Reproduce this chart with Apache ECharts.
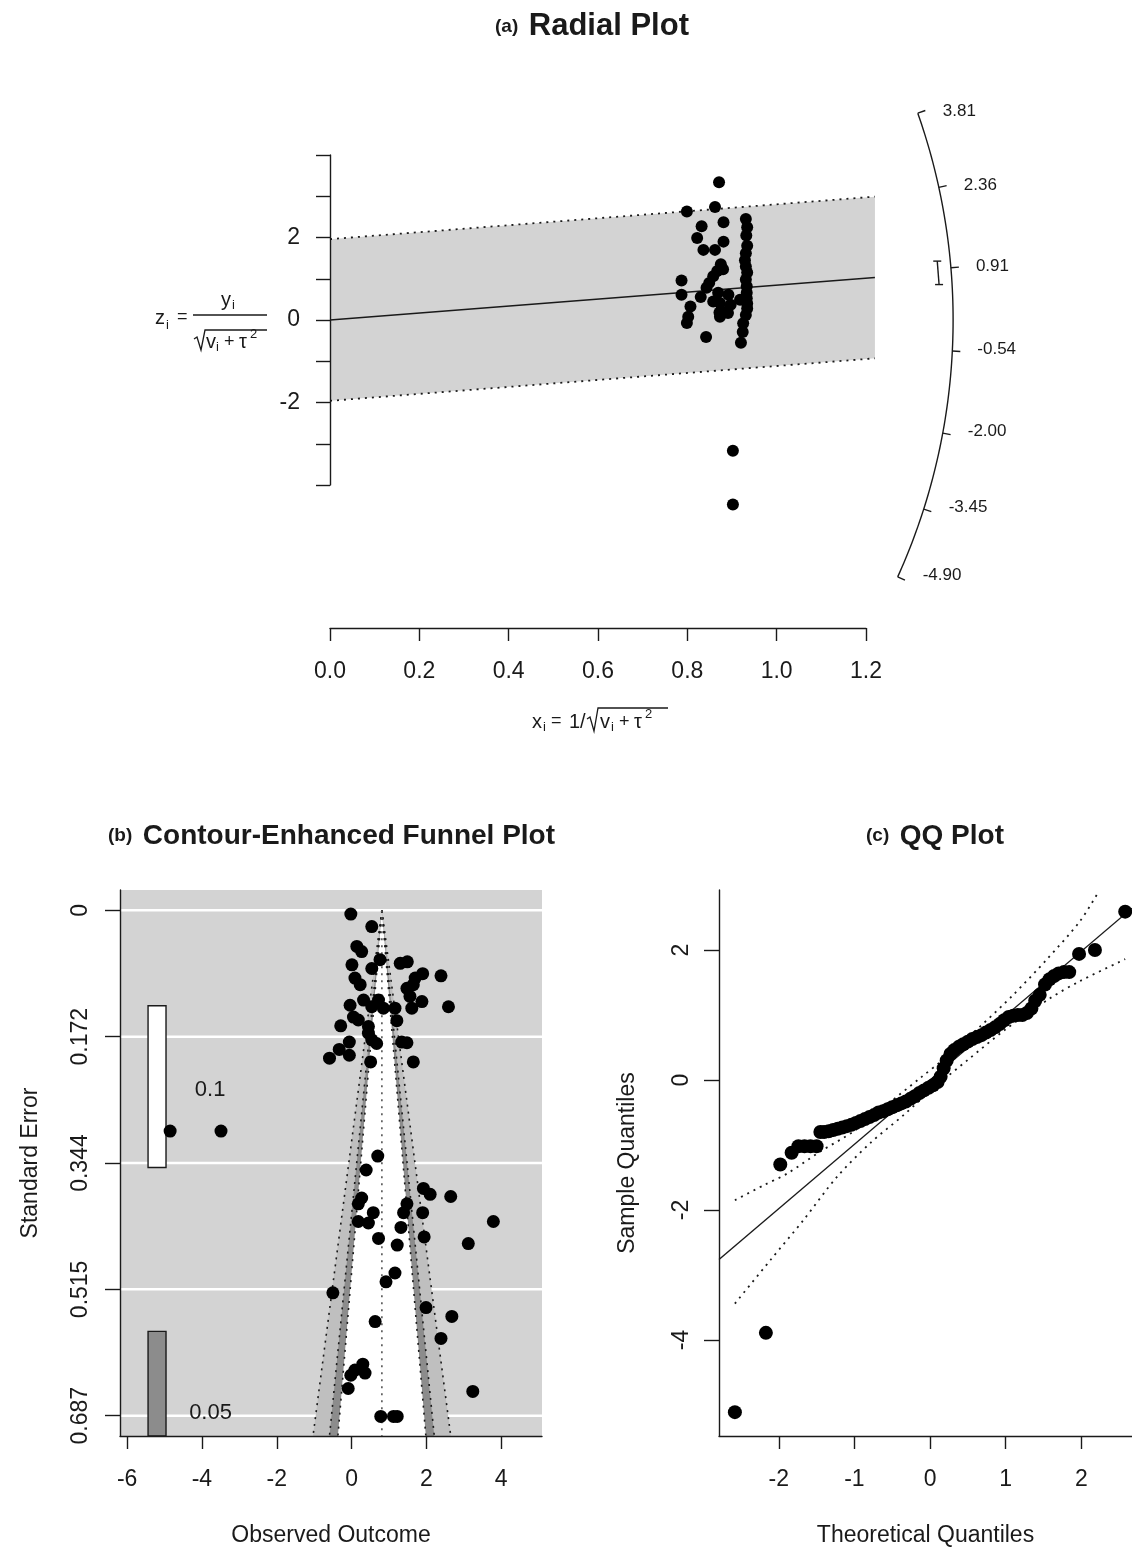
<!DOCTYPE html>
<html>
<head>
<meta charset="utf-8">
<title>Radial, funnel and QQ plots</title>
<script src="https://cdn.jsdelivr.net/npm/echarts@6.0.0/dist/echarts.min.js"></script>
<style>
  html, body { margin: 0; background: #fff; }
  #main { width: 1132px; height: 1550px; }
</style>
</head>
<body>
<div id="main"></div>
<script>
// (a) radial plot: x = 1/sqrt(v + tau^2), z = y/sqrt(v + tau^2)
const radialX = [0.871,0.799,0.862,0.931,0.934,0.932,0.881,0.832,0.822,0.836,0.862,0.881,0.934,0.931,0.929,0.931,0.934,0.875,0.867,0.858,0.849,0.787,0.787,0.843,0.830,0.869,0.892,0.873,0.872,0.897,0.918,0.931,0.933,0.933,0.933,0.934,0.934,0.931,0.925,0.924,0.807,0.802,0.799,0.842,0.920,0.880,0.858,0.880,0.891,0.873,0.902,0.902]
const radialZ = [3.34,2.63,2.74,2.45,2.25,2.05,2.37,2.27,1.99,1.70,1.70,1.90,1.80,1.62,1.45,1.30,1.15,1.35,1.19,1.06,0.90,0.96,0.61,0.78,0.56,0.66,0.61,0.41,0.18,0.37,0.49,0.98,0.82,0.66,0.53,0.40,0.28,0.12,-0.08,-0.29,0.33,0.08,-0.07,-0.41,-0.55,0.20,0.45,1.23,0.17,0.08,-3.17,-4.47]
const radialEstimate = 0.845
const radialCi = [0.63, 1.05]
const arcTicks = ['3.81', '2.36', '0.91', '-0.54', '-2.00', '-3.45', '-4.90']
const radialYLabels = [-2, 0, 2]
const bandEnd = 1.22     // band drawn a bit past the last x tick
const arcRadius = 1.395  // in x units

// (b) contour-enhanced funnel plot
const funnelYi = [-0.02,0.54,0.14,0.27,0.01,0.54,0.76,1.30,1.49,1.70,1.90,2.39,0.09,0.23,1.48,1.65,1.56,1.88,2.59,-0.04,0.32,0.72,0.54,0.85,1.16,1.61,0.05,0.18,-0.29,0.45,1.21,0.45,0.54,0.67,-0.06,-0.33,-0.06,-0.59,1.34,1.48,0.51,1.65,-4.85,-3.49,0.70,0.39,1.92,2.10,2.65,0.27,0.18,0.58,1.48,1.39,1.90,0.18,0.45,3.79,1.32,0.72,1.22,1.94,3.12,1.16,0.92,-0.50,1.99,2.68,0.63,2.39,0.30,0.09,0.36,-0.02,-0.09,3.24,0.78,1.12,1.22]
const funnelSE = [0.005,0.022,0.049,0.056,0.074,0.079,0.067,0.072,0.070,0.092,0.086,0.089,0.092,0.101,0.106,0.101,0.117,0.124,0.131,0.129,0.122,0.122,0.131,0.133,0.133,0.133,0.145,0.149,0.157,0.158,0.150,0.167,0.176,0.181,0.179,0.189,0.197,0.201,0.179,0.180,0.206,0.206,0.300,0.300,0.334,0.353,0.378,0.386,0.389,0.391,0.399,0.411,0.399,0.411,0.411,0.423,0.425,0.423,0.431,0.446,0.455,0.444,0.453,0.493,0.505,0.520,0.540,0.552,0.559,0.582,0.617,0.625,0.629,0.632,0.650,0.654,0.688,0.688,0.688]
const funnelRef = 0.81
const contourZ = [1.645, 1.96, 2.576]   // p = .10, .05, .01
const outcomeTicks = [-6, -4, -2, 0, 2, 4]
const seTickValues = [0, 0.17175, 0.3435, 0.51525, 0.687]
const seTicks = ['0', '0.172', '0.344', '0.515', '0.687']
const funnelXLim = [-6.19, 5.09]
const funnelSELim = [-0.0277, 0.7146]

// (c) QQ plot
const qqTheo = [-2.58,-2.17,-1.98,-1.83,-1.74,-1.66,-1.58,-1.50,-1.45,-1.40,-1.34,-1.28,-1.22,-1.16,-1.10,-1.04,-0.98,-0.92,-0.86,-0.80,-0.74,-0.68,-0.62,-0.56,-0.50,-0.44,-0.38,-0.32,-0.26,-0.20,-0.14,-0.08,-0.02,0.04,0.10,0.14,0.18,0.22,0.27,0.32,0.38,0.44,0.50,0.56,0.62,0.68,0.74,0.80,0.86,0.92,0.98,1.04,1.10,1.16,1.22,1.28,1.34,1.39,1.45,1.52,1.58,1.64,1.70,1.77,1.84,1.97,2.18,2.58]
const qqSample = [-5.11,-3.89,-1.30,-1.12,-1.02,-1.02,-1.02,-1.02,-0.80,-0.80,-0.79,-0.77,-0.75,-0.73,-0.71,-0.69,-0.66,-0.63,-0.60,-0.57,-0.54,-0.50,-0.48,-0.45,-0.42,-0.39,-0.36,-0.33,-0.29,-0.25,-0.20,-0.16,-0.12,-0.08,-0.03,0.05,0.18,0.30,0.40,0.46,0.51,0.55,0.59,0.63,0.66,0.69,0.73,0.77,0.81,0.86,0.92,0.97,0.99,1.00,1.00,1.03,1.10,1.22,1.31,1.47,1.55,1.60,1.64,1.66,1.66,1.94,2.00,2.59]
const envUpperX = [-2.58,-2.20,-1.89,-1.45,-1.01,-0.57,-0.13,0.22,0.66,1.10,1.54,1.98,2.22]
const envUpperY = [-1.85,-1.62,-1.44,-1.10,-0.79,-0.38,0.03,0.36,0.82,1.31,1.85,2.44,2.88]
const envLowerX = [-2.58,-2.11,-1.67,-1.23,-0.79,-0.35,0.04,0.50,1.00,1.59,1.98,2.51,2.58]
const envLowerY = [-3.44,-2.77,-2.15,-1.49,-0.97,-0.54,-0.13,0.31,0.78,1.26,1.52,1.82,1.86]
const qqIntercept = 0.0
const qqSlope = 0.99
const qqXTicks = [-2, -1, 0, 1, 2]
const qqYTicks = [-4, -2, 0, 2]
const qqXLim = [-2.79, 2.67]
const qqYLim = [-5.477, 2.923]

const font = 'Liberation Sans, Arial, Helvetica, sans-serif'
const ink = '#1a1a1a'
const dotInk = '#000000'
const dots = [2, 5]

function txt(text, size, align) {
  align = align || 'left'
  return { text: text, fontSize: size, fontFamily: font, fill: ink,
    align: align, textAlign: align, verticalAlign: 'middle', textVerticalAlign: 'middle' }
}
function seg(a, b, dash, color, width) {
  return { type: 'line', shape: { x1: a[0], y1: a[1], x2: b[0], y2: b[1] },
    style: { stroke: color || ink, lineWidth: width || 1.4, lineDash: dash || null } }
}
function axis(extra) {
  const base = {
    type: 'value', z: 5,
    axisLine: { show: true, onZero: false, lineStyle: { color: ink, width: 1.4 } },
    axisTick: { show: true, length: 13, lineStyle: { color: ink, width: 1.4 } },
    axisLabel: { color: ink, fontSize: 23, fontFamily: font },
    splitLine: { show: false },
    nameTextStyle: { color: ink, fontSize: 23, fontFamily: font }
  }
  for (const k in extra) {
    const b = base[k]
    base[k] = (b && typeof b === 'object' && !Array.isArray(b)) ? Object.assign({}, b, extra[k]) : extra[k]
  }
  return base
}

function renderBand(params, api) {
  const p = (x, z) => api.coord([x, z])
  const u0 = p(0, 1.96), u1 = p(bandEnd, 1.96 + radialEstimate * bandEnd)
  const l0 = p(0, -1.96), l1 = p(bandEnd, -1.96 + radialEstimate * bandEnd)
  return { type: 'group', children: [
    { type: 'polygon', shape: { points: [u0, u1, l1, l0] }, style: { fill: '#d3d3d3' } },
    seg(u0, u1, dots, ink, 1.8),
    seg(l0, l1, dots, ink, 1.8),
    seg(p(0, 0), p(bandEnd, radialEstimate * bandEnd), null, ink, 1.4)
  ] }
}

function renderArc(params, api) {
  const o = api.coord([0, 0])
  const R = api.size([arcRadius, 0])[0]
  const at = (t, r) => {
    const q = api.coord([1, t])
    const dx = q[0] - o[0], dy = q[1] - o[1], L = Math.hypot(dx, dy)
    return [o[0] + dx / L * r, o[1] + dy / L * r]
  }
  const vals = arcTicks.map(Number)
  const hi = vals[0], lo = vals[vals.length - 1]
  const pts = []
  for (let i = 0; i <= 80; i++) pts.push(at(hi + (lo - hi) * i / 80, R))
  const kids = [{ type: 'polyline', shape: { points: pts }, style: { stroke: ink, lineWidth: 1.4, fill: null } }]
  vals.forEach((v, i) => {
    const a = at(v, R)
    kids.push(seg(a, at(v, R + 8)))
    kids.push({ type: 'text', x: a[0] + 25, y: a[1] - 2, style: txt(arcTicks[i], 17, 'left') })
  })
  // confidence interval of the summary estimate, just inside the arc
  const c1 = at(radialCi[0], R - 13), c2 = at(radialCi[1], R - 13)
  kids.push(seg(c1, c2))
  kids.push(seg([c1[0] - 4, c1[1]], [c1[0] + 4, c1[1]]))
  kids.push(seg([c2[0] - 4, c2[1]], [c2[0] + 4, c2[1]]))
  return { type: 'group', children: kids }
}

function renderFunnel(params, api) {
  const [x0, x1] = funnelXLim
  const [s0, s1] = funnelSELim
  const tl = api.coord([x0, s0]), br = api.coord([x1, s1])
  const kids = [{ type: 'rect', shape: { x: tl[0], y: tl[1], width: br[0] - tl[0], height: br[1] - tl[1] }, style: { fill: '#d3d3d3' } }]
  seTickValues.forEach(s => {
    const y = api.coord([x0, s])[1]
    kids.push(seg([tl[0], y], [br[0], y], null, '#ffffff', 2.5))
  })
  const apex = api.coord([funnelRef, 0])
  const fills = { 1.645: '#ffffff', 1.96: '#8c8c8c', 2.576: '#bfbfbf' }
  const ks = contourZ.slice().sort((a, b) => b - a)
  ks.forEach(k => {
    kids.push({ type: 'polygon', shape: { points: [apex, api.coord([funnelRef - k * s1, s1]), api.coord([funnelRef + k * s1, s1])] }, style: { fill: fills[k] } })
  })
  ks.forEach(k => {
    kids.push(seg(apex, api.coord([funnelRef - k * s1, s1]), dots, ink, 1.6))
    kids.push(seg(apex, api.coord([funnelRef + k * s1, s1]), dots, ink, 1.6))
  })
  kids.push(seg(apex, api.coord([funnelRef, s1]), dots, '#555', 1.6))
  // little key: white = p > .10, grey = .05 < p < .10
  const k1a = api.coord([-5.44, 0.1296]), k1b = api.coord([-4.96, 0.3496])
  const k2a = api.coord([-5.44, 0.5724]), k2b = api.coord([-4.96, s1])
  kids.push({ type: 'rect', shape: { x: k1a[0], y: k1a[1], width: k1b[0] - k1a[0], height: k1b[1] - k1a[1] }, style: { fill: '#ffffff', stroke: ink, lineWidth: 1.4 } })
  kids.push({ type: 'rect', shape: { x: k2a[0], y: k2a[1], width: k2b[0] - k2a[0], height: k2b[1] - k2a[1] }, style: { fill: '#8c8c8c', stroke: ink, lineWidth: 1.4 } })
  const t1 = api.coord([-3.78, 0.244]), t2 = api.coord([-3.77, 0.683])
  kids.push({ type: 'text', x: t1[0], y: t1[1], style: txt('0.1', 22, 'center') })
  kids.push({ type: 'text', x: t2[0], y: t2[1], style: txt('0.05', 22, 'center') })
  return { type: 'group', children: kids }
}

function mathPiece(x, y, s, size) {
  return { type: 'text', x: x, y: y, style: txt(s, size, 'left') }
}
const radialYName = [
  mathPiece(155, 318, 'z', 20), mathPiece(166, 325, 'i', 13), mathPiece(177, 317, '=', 18),
  seg([193, 315], [267, 315]),
  mathPiece(221, 300, 'y', 20), mathPiece(232, 305, 'i', 13),
  { type: 'polyline', shape: { points: [[194, 339], [197, 337], [201, 350], [205, 330], [267, 330]] }, style: { stroke: ink, lineWidth: 1.3, fill: null } },
  mathPiece(206, 342, 'v', 20), mathPiece(216, 347, 'i', 13), mathPiece(224, 342, '+', 18),
  mathPiece(239, 342, 'τ', 20), mathPiece(250, 334, '2', 13)
]
const radialXName = [
  mathPiece(532, 722, 'x', 20), mathPiece(543, 727, 'i', 13), mathPiece(551, 721, '=', 18),
  mathPiece(569, 722, '1', 20), mathPiece(580, 722, '/', 20),
  { type: 'polyline', shape: { points: [[587, 719], [590, 717], [594, 731], [598, 708], [668, 708]] }, style: { stroke: ink, lineWidth: 1.3, fill: null } },
  mathPiece(600, 722, 'v', 20), mathPiece(611, 727, 'i', 13), mathPiece(619, 722, '+', 18),
  mathPiece(634, 722, 'τ', 20), mathPiece(645, 714, '2', 13)
]

const titleRich = {
  p: { fontSize: 19, fontWeight: 'bold', fontFamily: font, color: ink },
  t: { fontSize: 28, fontWeight: 'bold', fontFamily: font, color: ink },
  big: { fontSize: 31, fontWeight: 'bold', fontFamily: font, color: ink }
}
const titleStyle = { fontSize: 19, fontWeight: 'bold', fontFamily: font, color: ink, rich: titleRich }

const chart = echarts.init(document.getElementById('main'))
chart.setOption({
  animation: false,
  backgroundColor: '#ffffff',
  title: [
    { text: '{p|(a)}  {big|Radial Plot}', left: 490, top: 6, textStyle: titleStyle },
    { text: '{p|(b)}  {t|Contour-Enhanced Funnel Plot}', left: 103, top: 817, textStyle: titleStyle },
    { text: '{p|(c)}  {t|QQ Plot}', left: 861, top: 817, textStyle: titleStyle }
  ],
  grid: [
    { left: 330, right: 266, top: 155, height: 330 },
    { left: 120, top: 890, width: 422, height: 546 },
    { left: 719, right: 0, top: 890, height: 546 }
  ],
  xAxis: [
    axis({ gridIndex: 0, min: 0, max: 1.2, interval: 0.2, offset: 143,
      axisLabel: { margin: 32, formatter: v => v.toFixed(1) } }),
    axis({ gridIndex: 1, min: funnelXLim[0], max: funnelXLim[1],
      axisTick: { customValues: outcomeTicks }, axisLabel: { customValues: outcomeTicks, margin: 32 },
      name: 'Observed Outcome', nameLocation: 'middle', nameGap: 88 }),
    axis({ gridIndex: 2, min: qqXLim[0], max: qqXLim[1],
      axisTick: { customValues: qqXTicks }, axisLabel: { customValues: qqXTicks, margin: 32 },
      name: 'Theoretical Quantiles', nameLocation: 'middle', nameGap: 88 })
  ],
  yAxis: [
    axis({ gridIndex: 0, min: -4, max: 4, interval: 1, axisTick: { length: 14 },
      axisLabel: { margin: 30, formatter: v => radialYLabels.indexOf(v) >= 0 ? String(v) : '' } }),
    axis({ gridIndex: 1, inverse: true, min: funnelSELim[0], max: funnelSELim[1],
      axisTick: { customValues: seTickValues, length: 15 },
      axisLabel: { customValues: seTickValues, rotate: 90, margin: 28,
        formatter: v => seTicks[seTickValues.findIndex(s => Math.abs(s - v) < 1e-6)] },
      name: 'Standard Error', nameLocation: 'middle', nameGap: 78 }),
    axis({ gridIndex: 2, min: qqYLim[0], max: qqYLim[1],
      axisTick: { customValues: qqYTicks, length: 15 },
      axisLabel: { customValues: qqYTicks, rotate: 90, margin: 26 },
      name: 'Sample Quantiles', nameLocation: 'middle', nameGap: 80 })
  ],
  graphic: { elements: radialYName.concat(radialXName) },
  series: [
    { type: 'custom', xAxisIndex: 0, yAxisIndex: 0, z: 1, data: [[0, 0]], renderItem: renderBand, silent: true },
    { type: 'scatter', xAxisIndex: 0, yAxisIndex: 0, z: 3, clip: false, symbolSize: 12,
      itemStyle: { color: dotInk, opacity: 1 }, data: radialX.map((x, i) => [x, radialZ[i]]) },
    { type: 'custom', xAxisIndex: 0, yAxisIndex: 0, z: 3, clip: false, data: [[0, 0]], renderItem: renderArc, silent: true },
    { type: 'custom', xAxisIndex: 1, yAxisIndex: 1, z: 1, data: [[0, 0]], renderItem: renderFunnel, silent: true },
    { type: 'scatter', xAxisIndex: 1, yAxisIndex: 1, z: 3, symbolSize: 13,
      itemStyle: { color: dotInk, opacity: 1 }, data: funnelYi.map((y, i) => [y, funnelSE[i]]) },
    { type: 'line', xAxisIndex: 2, yAxisIndex: 2, z: 2, symbol: 'none',
      lineStyle: { color: ink, width: 1.4 },
      data: qqXLim.map(x => [x, qqIntercept + qqSlope * x]) },
    { type: 'line', xAxisIndex: 2, yAxisIndex: 2, z: 2, symbol: 'none', smooth: 0.3,
      lineStyle: { color: ink, width: 1.8, type: dots },
      data: envUpperX.map((x, i) => [x, envUpperY[i]]) },
    { type: 'line', xAxisIndex: 2, yAxisIndex: 2, z: 2, symbol: 'none', smooth: 0.3,
      lineStyle: { color: ink, width: 1.8, type: dots },
      data: envLowerX.map((x, i) => [x, envLowerY[i]]) },
    { type: 'scatter', xAxisIndex: 2, yAxisIndex: 2, z: 3, symbolSize: 14,
      itemStyle: { color: dotInk, opacity: 1 }, data: qqTheo.map((x, i) => [x, qqSample[i]]) }
  ]
})
</script>
</body>
</html>
